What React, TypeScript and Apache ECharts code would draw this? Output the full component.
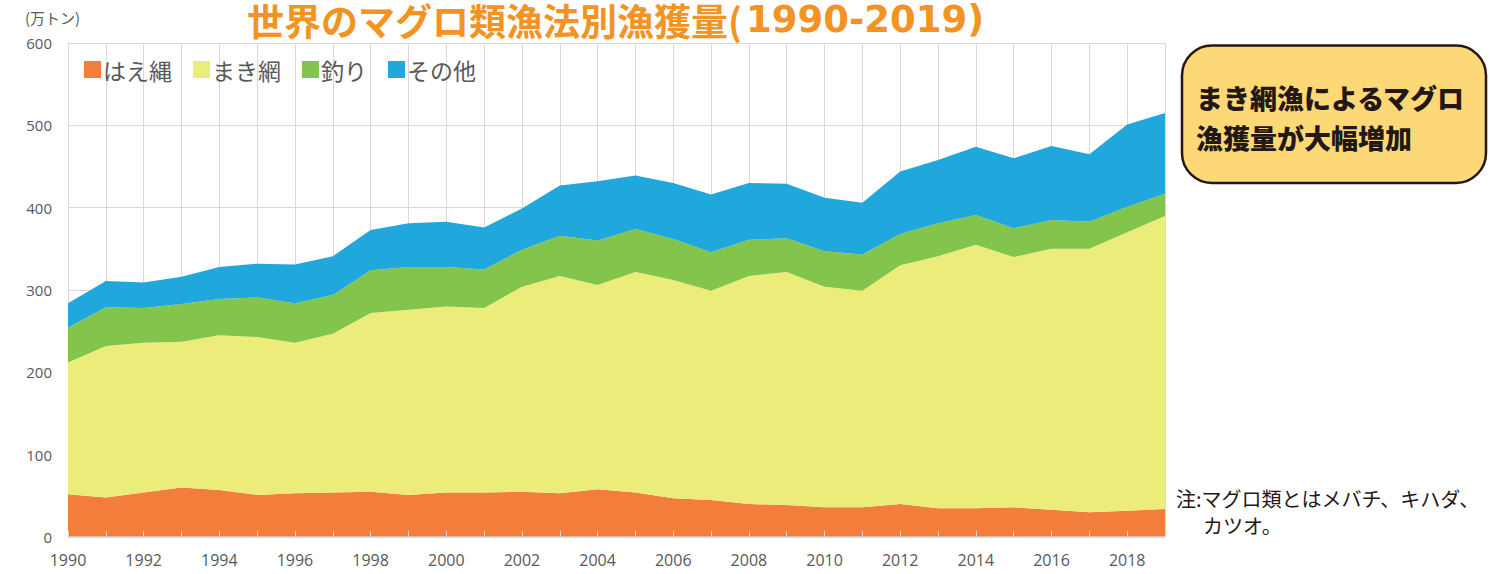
import React, { useEffect, useRef } from "react";
import * as echarts from "echarts";

const years: string[] = [
  "1990", "1991", "1992", "1993", "1994", "1995", "1996", "1997", "1998", "1999",
  "2000", "2001", "2002", "2003", "2004", "2005", "2006", "2007", "2008", "2009",
  "2010", "2011", "2012", "2013", "2014", "2015", "2016", "2017", "2018", "2019",
];

// 万トン
const longline: number[] = [
  52, 48, 54, 60, 57, 51, 53, 54, 55, 51,
  54, 54, 55, 53, 58, 54, 47, 45, 40, 39,
  36, 36, 40, 35, 35, 36, 33, 30, 32, 34,
];
const purseSeine: number[] = [
  160, 184, 182, 177, 188, 192, 183, 193, 217, 225,
  226, 224, 249, 264, 248, 268, 265, 254, 277, 283,
  268, 263, 290, 306, 320, 304, 317, 320, 338, 356,
];
const poleLine: number[] = [
  42, 47, 42, 46, 44, 48, 48, 47, 52, 52,
  48, 47, 45, 49, 54, 52, 50, 47, 44, 41,
  43, 44, 38, 40, 36, 35, 35, 33, 31, 27,
];
const others: number[] = [
  30, 32, 31, 33, 39, 41, 47, 47, 49, 53,
  55, 51, 50, 61, 72, 65, 68, 70, 69, 66,
  65, 63, 76, 77, 83, 85, 90, 82, 100, 98,
];

const seriesNames: string[] = ["はえ縄", "まき網", "釣り", "その他"];
const seriesColors: string[] = ["#F37E3B", "#ECEC7A", "#82C44C", "#20A7DB"];
const yTicks = { min: 0, max: 600, interval: 100 };

const titleMain = "世界のマグロ類漁法別漁獲量(";
const titleYears = "1990-2019)";
const unitText = "(万トン)";
const calloutLines: string[] = ["まき網漁によるマグロ", "漁獲量が大幅増加"];
const noteLines: string[] = ["注:マグロ類とはメバチ、キハダ、", "カツオ。"];

const JP = "'Noto Sans CJK JP', 'Noto Sans', sans-serif";
const NUM = "'Open Sans', 'Noto Sans CJK JP', sans-serif";

export default function App() {
  const ref = useRef<HTMLDivElement>(null);

  useEffect(() => {
    document.body.style.margin = "0";
    if (!ref.current) return;
    const chart = echarts.init(ref.current, undefined, { renderer: "svg" });
    const data = [longline, purseSeine, poleLine, others];

    chart.setOption({
      animation: false,
      backgroundColor: "#ffffff",
      grid: { left: 68, right: 331, top: 43, bottom: 37, containLabel: false },
      legend: {
        left: 79,
        top: 53,
        icon: "rect",
        itemWidth: 17,
        itemHeight: 17,
        itemGap: 21,
        textStyle: { fontSize: 23, color: "#595959", fontFamily: JP, padding: [0, 0, 0, -3] },
        data: seriesNames,
      },
      xAxis: [
        {
          type: "category",
          data: years,
          boundaryGap: false,
          position: "bottom",
          axisLine: { show: true, lineStyle: { color: "#d9d9d9", width: 1 } },
          axisTick: { show: false },
          axisLabel: {
            interval: 1,
            fontSize: 16,
            color: "#595959",
            fontFamily: NUM,
            margin: 15,
          },
          splitLine: { show: true, interval: 0, lineStyle: { color: "#d9d9d9", width: 1 } },
        },
        {
          type: "category",
          data: years,
          boundaryGap: false,
          position: "bottom",
          offset: 0,
          z: 10,
          axisLine: { show: true, lineStyle: { color: "#d9d9d9", width: 1.5 } },
          axisTick: { show: true, inside: true, interval: 0, length: 6, lineStyle: { color: "#d9d9d9", width: 1 } },
          axisLabel: { show: false },
          splitLine: { show: false },
        },
      ],
      yAxis: {
        type: "value",
        min: yTicks.min,
        max: yTicks.max,
        interval: yTicks.interval,
        axisLine: { show: true, lineStyle: { color: "#d9d9d9", width: 1 } },
        axisTick: { show: false },
        axisLabel: { fontSize: 15, color: "#595959", fontFamily: NUM, margin: 16 },
        splitLine: { show: true, lineStyle: { color: "#d9d9d9", width: 1 } },
      },
      series: seriesNames.map((name, i) => ({
        name,
        type: "line",
        stack: "total",
        xAxisIndex: 0,
        data: data[i],
        symbol: "none",
        showSymbol: false,
        lineStyle: { width: 0, color: seriesColors[i] },
        itemStyle: { color: seriesColors[i] },
        areaStyle: { color: seriesColors[i], opacity: 1 },
        z: 2,
      })),
      graphic: [
        {
          type: "text",
          x: 247,
          y: 1,
          style: {
            text: titleMain,
            fontSize: 37,
            lineHeight: 37,
            fontWeight: "bold",
            fontFamily: JP,
            fill: "#F39323",
            verticalAlign: "top",
          },
        },
        {
          type: "text",
          x: 746,
          y: 1,
          style: {
            text: titleYears,
            fontSize: 37,
            lineHeight: 37,
            fontWeight: "bold",
            fontFamily: "'DejaVu Sans', sans-serif",
            fill: "#F39323",
            verticalAlign: "top",
          },
        },
        {
          type: "text",
          x: 25,
          y: 17,
          style: {
            text: unitText,
            fontSize: 15,
            fontFamily: JP,
            fill: "#595959",
            verticalAlign: "middle",
          },
        },
        {
          type: "rect",
          shape: { x: 1182, y: 45.5, width: 304, height: 137.5, r: 30 },
          style: { fill: "#FDD876", stroke: "#231815", lineWidth: 2.5 },
        },
        {
          type: "text",
          x: 1196,
          y: 97,
          style: {
            text: calloutLines[0],
            fontSize: 27,
            fontWeight: 900,
            fontFamily: JP,
            fill: "#231815",
            verticalAlign: "middle",
          },
        },
        {
          type: "text",
          x: 1196,
          y: 137,
          style: {
            text: calloutLines[1],
            fontSize: 27,
            fontWeight: 900,
            fontFamily: JP,
            fill: "#231815",
            verticalAlign: "middle",
          },
        },
        {
          type: "text",
          x: 1176,
          y: 498,
          style: {
            text: noteLines[0],
            fontSize: 20,
            lineHeight: 20,
            fontFamily: JP,
            fill: "#231815",
            verticalAlign: "middle",
          },
        },
        {
          type: "text",
          x: 1203,
          y: 525,
          style: {
            text: noteLines[1],
            fontSize: 20,
            lineHeight: 20,
            fontFamily: JP,
            fill: "#231815",
            verticalAlign: "middle",
          },
        },
      ],
    });

    return () => chart.dispose();
  }, []);

  return <div ref={ref} style={{ width: 1496, height: 574 }} />;
}
